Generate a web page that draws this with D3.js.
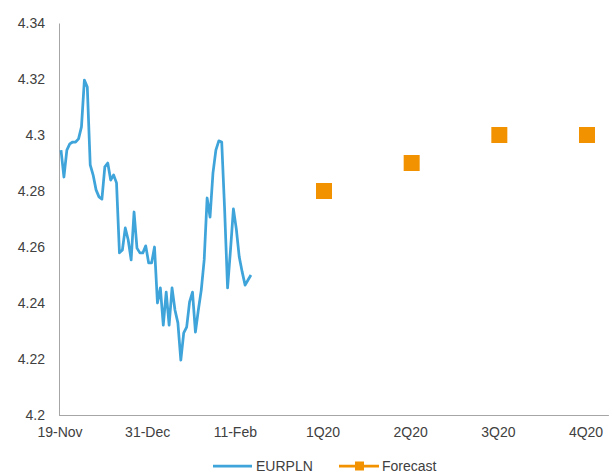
<!DOCTYPE html>
<html>
<head>
<meta charset="utf-8">
<script src="https://cdn.jsdelivr.net/npm/d3@7"></script>
<style>
  body { margin: 0; background: #fff; }
  text { font-family: "Liberation Sans", Arial, sans-serif; fill: #404040; }
</style>
</head>
<body>
<div id="chart"></div>
<script>
// daily EURPLN fixings, one per business day from 19-Nov
const eurpln = [
  4.2946, 4.2850, 4.2946, 4.2968, 4.2975, 4.2975, 4.2986, 4.3029, 4.3196, 4.3171,
  4.2893, 4.2857, 4.2804, 4.2779, 4.2771, 4.2886, 4.2900, 4.2839, 4.2857, 4.2829,
  4.2579, 4.2589, 4.2668, 4.2625, 4.2554, 4.2725, 4.2596, 4.2579, 4.2579, 4.2604,
  4.2543, 4.2543, 4.2600, 4.2400, 4.2454, 4.2321, 4.2439, 4.2321, 4.2454, 4.2375,
  4.2329, 4.2196, 4.2293, 4.2314, 4.2404, 4.2439, 4.2296, 4.2375, 4.2446, 4.2554,
  4.2775, 4.2707, 4.2864, 4.2946, 4.2979, 4.2975, 4.2732, 4.2454, 4.2589, 4.2736,
  4.2664, 4.2564, 4.2511, 4.2464, 4.2482, 4.2500
];

// quarterly forecasts
const quarters = ["1Q20", "2Q20", "3Q20", "4Q20"];
const forecast = [4.28, 4.29, 4.30, 4.30];
const forecastIdx = [90, 120, 150, 180];

// category axis labels
const tickLabels = ["19-Nov", "31-Dec", "11-Feb", "1Q20", "2Q20", "3Q20", "4Q20"];
const tickIdx = [0, 30, 60, 90, 120, 150, 180];

const yTicks = [4.2, 4.22, 4.24, 4.26, 4.28, 4.3, 4.32, 4.34];

const width = 613;
const height = 475;
const blue = "#3FA4DA";
const orange = "#F39200";

const svg = d3.select("#chart")
              .append("svg")
              .attr("width", width)
              .attr("height", height);

const xScale = d3.scaleLinear()
                 .domain([0, 180])
                 .range([61, 587]);

const yScale = d3.scaleLinear()
                 .domain([4.2, 4.34])
                 .range([415, 23]);

// y axis
const yAxis = d3.axisLeft(yScale)
                .tickValues(yTicks)
                .tickSize(0)
                .tickPadding(14)
                .tickFormat(d => d3.format("")(+d.toFixed(2)));

svg.append("g")
   .attr("transform", "translate(59, 0)")
   .call(yAxis)
   .call(g => g.select(".domain").attr("stroke", "#A6A6A6"))
   .selectAll("text")
   .style("font-size", "14px")
   .attr("fill", "#404040");

// x axis
const xAxis = d3.axisBottom(xScale)
                .tickValues(tickIdx)
                .tickSize(0)
                .tickPadding(12)
                .tickFormat((d, i) => tickLabels[i]);

svg.append("g")
   .attr("transform", "translate(0, 415)")
   .call(xAxis)
   .call(g => g.select(".domain").remove())
   .selectAll("text")
   .style("font-size", "14px")
   .attr("dx", "-1.5")
   .attr("fill", "#404040");

svg.append("line")
   .attr("x1", 59)
   .attr("x2", xScale(187.5))
   .attr("y1", 415.5)
   .attr("y2", 415.5)
   .attr("stroke", "#A6A6A6");

// EURPLN line
const line = d3.line()
               .x((d, i) => xScale(i))
               .y(d => yScale(d));

svg.append("path")
   .datum(eurpln)
   .attr("d", line)
   .attr("fill", "none")
   .attr("stroke", blue)
   .attr("stroke-width", 2.75)
   .attr("stroke-linejoin", "round");

// forecast squares
const sq = 16;
svg.selectAll(".fc")
   .data(forecast)
   .enter()
   .append("rect")
   .attr("class", "fc")
   .attr("x", (d, i) => xScale(forecastIdx[i]) - sq / 2)
   .attr("y", d => yScale(d) - sq / 2)
   .attr("width", sq)
   .attr("height", sq)
   .attr("fill", orange);

// legend
const legend = svg.append("g").attr("transform", "translate(0, 466)");

legend.append("line")
      .attr("x1", 213).attr("x2", 252)
      .attr("y1", 0).attr("y2", 0)
      .attr("stroke", blue)
      .attr("stroke-width", 2.75);

legend.append("text")
      .attr("x", 256)
      .attr("y", 0)
      .attr("dy", "0.36em")
      .style("font-size", "14px")
      .text("EURPLN");

legend.append("line")
      .attr("x1", 339).attr("x2", 379)
      .attr("y1", 0).attr("y2", 0)
      .attr("stroke", orange)
      .attr("stroke-width", 2.75);

legend.append("rect")
      .attr("x", 355).attr("y", -4.5)
      .attr("width", 9).attr("height", 9)
      .attr("fill", orange);

legend.append("text")
      .attr("x", 382)
      .attr("y", 0)
      .attr("dy", "0.36em")
      .style("font-size", "14px")
      .text("Forecast");
</script>
</body>
</html>
